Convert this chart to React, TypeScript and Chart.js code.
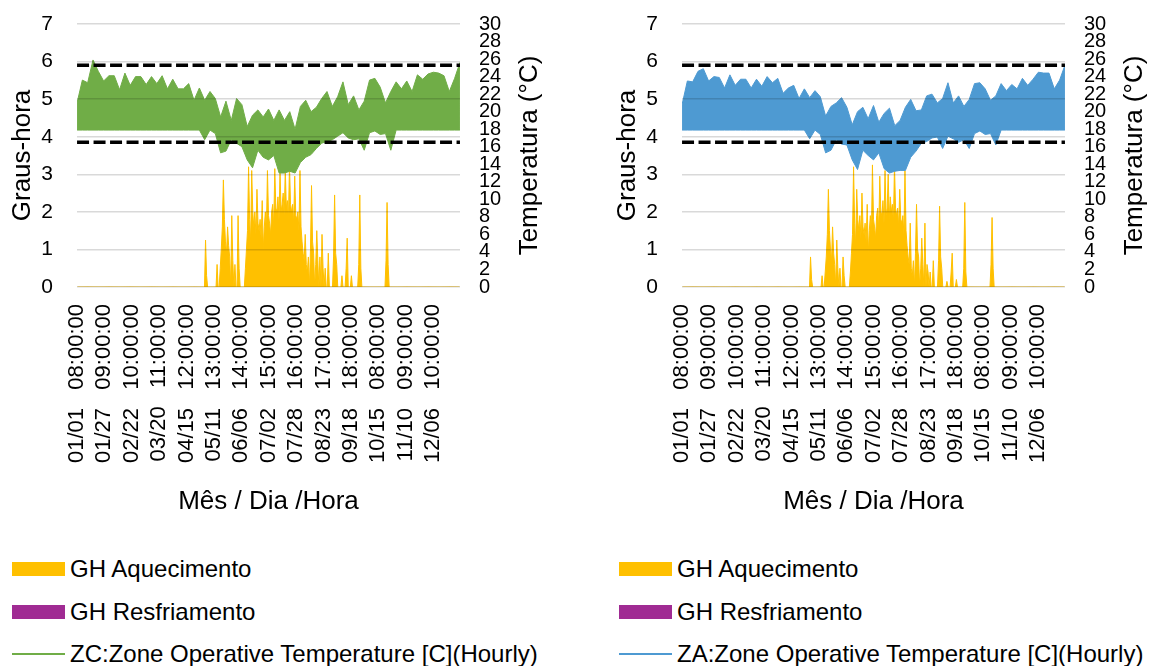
import React, { useEffect, useRef } from "react";
import { Chart, registerables } from "chart.js";

Chart.register(...registerables);

// ---------- data ----------
const TICK_DATES = ["01/01", "01/27", "02/22", "03/20", "04/15", "05/11", "06/06", "07/02", "07/28", "08/23", "09/18", "10/15", "11/10", "12/06"];
const TICK_HOURS = ["08:00:00", "09:00:00", "10:00:00", "11:00:00", "12:00:00", "13:00:00", "14:00:00", "15:00:00", "16:00:00", "17:00:00", "18:00:00", "08:00:00", "09:00:00", "10:00:00"];

const DAYS = 365;
const HOURS_PER_DAY = 11; // 08:00 .. 18:00
const FIRST_HOUR = 8;
const MONTH_START = [0, 31, 59, 90, 120, 151, 181, 212, 243, 273, 304, 334];

const COMFORT_HIGH = 25.3; // ºC
const COMFORT_LOW = 16.5; // ºC

// 5-day envelopes of the hourly operative temperature (ºC)
const ZC_TEMP_MAX = [21.0, 23.6, 23.3, 25.9, 24.6, 23.5, 24.1, 24.1, 22.5, 24.4, 23.0, 24.0, 24.0, 23.1, 24.0, 23.2, 24.1, 22.6, 23.7, 22.6, 22.6, 23.2, 21.3, 22.7, 21.3, 22.3, 21.5, 19.4, 21.2, 19.0, 21.5, 20.8, 18.3, 19.6, 20.2, 19.4, 20.3, 19.0, 20.2, 19.0, 20.0, 18.0, 20.6, 21.3, 20.0, 20.5, 21.5, 22.3, 20.6, 21.7, 23.4, 20.8, 21.8, 20.2, 21.2, 23.6, 23.8, 22.8, 21.0, 22.3, 23.4, 22.6, 23.5, 22.3, 24.2, 23.7, 24.3, 24.5, 24.4, 24.1, 22.3, 23.8, 25.6];
const ZC_TEMP_MIN = [17.9, 17.9, 17.9, 17.9, 17.9, 17.9, 17.9, 17.9, 17.9, 17.9, 17.9, 17.9, 17.9, 17.9, 17.9, 17.9, 17.9, 17.9, 17.9, 17.9, 17.9, 17.9, 17.9, 17.9, 16.8, 17.9, 17.5, 15.3, 15.5, 16.8, 16.4, 16.0, 14.5, 13.6, 15.6, 14.8, 14.5, 15.0, 13.0, 13.0, 13.2, 13.0, 14.2, 14.8, 15.1, 15.8, 16.4, 16.6, 16.8, 17.2, 17.6, 17.0, 16.8, 16.9, 15.6, 17.6, 17.8, 17.4, 17.5, 15.6, 17.9, 17.9, 17.9, 17.9, 17.9, 17.9, 17.9, 17.9, 17.9, 17.9, 17.9, 17.9, 17.9];
const ZA_TEMP_MAX = [20.8, 23.5, 23.4, 24.6, 24.9, 23.5, 24.0, 23.9, 22.7, 24.2, 23.0, 23.7, 23.7, 22.7, 23.7, 22.9, 24.0, 23.3, 23.8, 22.1, 22.7, 23.0, 21.5, 22.6, 21.6, 22.4, 21.7, 19.5, 20.6, 21.0, 21.6, 20.5, 18.5, 20.0, 20.5, 19.2, 20.7, 18.8, 19.8, 20.4, 18.4, 19.0, 20.5, 21.4, 20.1, 20.2, 21.8, 22.0, 21.0, 21.5, 23.3, 21.0, 21.8, 20.6, 21.4, 23.2, 23.3, 22.6, 21.3, 21.8, 23.2, 22.4, 23.1, 22.6, 23.8, 23.0, 23.7, 24.5, 24.4, 24.4, 22.6, 23.6, 25.3];
const ZA_TEMP_MIN = [17.9, 17.9, 17.9, 17.9, 17.9, 17.9, 17.9, 17.9, 17.9, 17.9, 17.9, 17.9, 17.9, 17.9, 17.9, 17.9, 17.9, 17.9, 17.9, 17.9, 17.9, 17.9, 17.9, 17.9, 16.9, 17.9, 17.4, 15.3, 15.6, 16.8, 16.3, 16.2, 14.5, 13.4, 15.6, 15.0, 14.5, 15.3, 13.5, 13.0, 13.2, 13.3, 13.3, 14.8, 15.5, 16.4, 16.6, 17.0, 17.1, 15.8, 17.2, 16.9, 16.5, 16.8, 15.8, 17.5, 17.8, 17.4, 17.5, 16.2, 17.9, 17.9, 17.9, 17.9, 17.9, 17.9, 17.9, 17.9, 17.9, 17.9, 17.9, 17.9, 17.9];

// daily peak heating degree-hours, from day-of-year HEAT_START_DAY onwards (other days: 0)
const HEAT_START_DAY = 120;
const ZC_HEAT_GH = [
  0, 0, 1.25, 0.3, 0, 0, 0, 0, 0, 0,
  0, 0, 0, 0.6, 0, 0, 0.5, 1.0, 1.6, 2.85,
  1.8, 1.2, 0.9, 1.6, 1.1, 0.8, 0, 1.9, 0.7, 0,
  0.6, 0, 0, 1.9, 0.5, 0, 0, 0, 0, 0,
  0.5, 1.0, 1.5, 3.2, 1.8, 1.2, 3.1, 2.0, 1.6, 2.0,
  1.4, 2.6, 1.7, 1.5, 1.8, 1.3, 2.3, 1.0, 1.6, 2.0,
  1.5, 3.1, 1.9, 1.7, 1.4, 2.0, 2.2, 1.6, 3.15, 2.1,
  2.0, 2.4, 1.8, 3.1, 2.0, 2.2, 2.5, 1.9, 3.15, 2.1,
  2.3, 1.8, 3.25, 2.2, 2.0, 2.2, 1.7, 2.95, 1.9, 1.8,
  2.0, 1.5, 3.1, 1.6, 1.2, 0.9, 0.7, 1.4, 0.6, 0.4,
  0.8, 0, 1.0, 2.7, 1.2, 0.9, 0, 0.6, 1.5, 0.7,
  0, 0.8, 0, 1.4, 0.5, 0, 0.5, 0, 0, 0.9,
  0, 0, 0, 0, 0.8, 2.45, 0.9, 0.6, 0, 0,
  0, 0, 0.3, 0, 0, 0, 0.5, 1.3, 0, 0,
  0, 0.3, 0, 0, 0, 0, 0, 0, 0.6, 2.45,
  0.5, 0, 0, 0, 0, 0, 0, 0, 0, 0,
  0, 0, 0, 0, 0, 0, 0, 0, 0, 0,
  0, 0, 0, 0, 0.7, 2.25, 0.6, 0, 0, 0,
];
const ZA_HEAT_GH = [
  0, 0, 0.8, 0.2, 0, 0, 0, 0, 0, 0,
  0, 0, 0, 0.3, 0, 0, 0.4, 0.8, 1.4, 2.6,
  1.5, 1.0, 0.7, 1.6, 0.9, 0.6, 0, 1.25, 0.5, 0,
  0.5, 0, 0, 0.8, 0.3, 0, 0, 0, 0, 0,
  0.4, 0.9, 1.4, 3.2, 1.7, 1.1, 2.6, 1.8, 1.5, 1.9,
  1.3, 2.5, 1.6, 1.4, 1.7, 1.2, 2.2, 0.9, 1.5, 1.9,
  1.4, 3.25, 1.8, 1.6, 1.3, 1.9, 2.1, 1.5, 2.95, 2.0,
  1.9, 2.3, 1.7, 3.1, 1.9, 2.1, 3.0, 1.8, 2.4, 2.0,
  2.2, 1.7, 3.25, 2.1, 1.9, 2.1, 1.6, 2.6, 1.8, 1.7,
  1.9, 1.4, 3.1, 1.5, 1.1, 0.8, 0.6, 1.7, 0.5, 0.3,
  0.7, 0, 0.9, 2.2, 1.0, 0.8, 0, 0.5, 1.3, 0.6,
  0, 1.7, 0, 0.6, 0.4, 0, 0.4, 0, 0, 0.7,
  0, 0, 0, 0, 0.7, 2.15, 0.8, 0.5, 0, 0,
  0, 0, 0.15, 0, 0, 0, 0.4, 0.9, 0, 0,
  0, 0.2, 0, 0, 0, 0, 0, 0, 0.5, 2.25,
  0.4, 0, 0, 0, 0, 0, 0, 0, 0, 0,
  0, 0, 0, 0, 0, 0, 0, 0, 0, 0,
  0, 0, 0, 0, 0.6, 1.85, 0.5, 0, 0, 0,
];
const COOL_GH: number[] = []; // no cooling degree-hours in either zone

// ---------- styling ----------
const FONT = '"Liberation Sans", Arial, Helvetica, sans-serif';
const YELLOW = "#FFC000";
const PURPLE = "#A02B93";
const GREEN = "#70AD47";
const BLUE = "#4E9AD2";
const W = 552;
const H = 530;
const PLOT_LEFT = 77;
const PLOT_RIGHT = 460;
const PLOT_TOP = 24;
const PLOT_BOTTOM = 287;

const N = DAYS * HOURS_PER_DAY;

function recordIndex(date: string, hour: string) {
  const [m, d] = date.split("/").map(Number);
  const h = Number(hour.split(":")[0]);
  return (MONTH_START[m - 1] + d - 1) * HOURS_PER_DAY + (h - FIRST_HOUR);
}

function envelope(values: number[]) {
  const p = values.length;
  return values.map((v, i) => ({ x: (i * (N - 1)) / (p - 1), y: v }));
}

function dailySeries(vals: number[]) {
  const pts: { x: number; y: number }[] = [];
  for (let d = 0; d < DAYS; d++) {
    const k = d - HEAT_START_DAY;
    const v = k >= 0 && k < vals.length ? vals[k] : 0;
    pts.push({ x: d * HOURS_PER_DAY + 5, y: v });
  }
  return pts;
}

const rightTitlePlugin = {
  id: "rightTitle",
  afterDraw(chart: any, _args: any, opts: any) {
    const { ctx, chartArea } = chart;
    ctx.save();
    ctx.translate(chartArea.right + opts.offset, (chartArea.top + chartArea.bottom) / 2);
    ctx.rotate(-Math.PI / 2);
    ctx.font = `26px ${FONT}`;
    ctx.fillStyle = "#000";
    ctx.textAlign = "center";
    ctx.textBaseline = "middle";
    ctx.fillText(opts.text, 0, 0);
    ctx.restore();
  },
};

const noPad = (axis: any) => {
  axis.paddingTop = 0;
  axis.paddingBottom = 0;
  axis.paddingLeft = 0;
  axis.paddingRight = 0;
};

type PanelProps = {
  left: number;
  color: string;
  tMax: number[];
  tMin: number[];
  heat: number[];
  zoneLabel: string;
};

function Panel({ left, color, tMax, tMin, heat, zoneLabel }: PanelProps) {
  const ref = useRef<HTMLCanvasElement | null>(null);

  useEffect(() => {
    if (!ref.current) return;
    const chart = new Chart(ref.current, {
      type: "line",
      data: {
        datasets: [
          {
            label: "GH Aquecimento",
            data: dailySeries(heat),
            yAxisID: "y",
            borderColor: YELLOW,
            backgroundColor: YELLOW,
            borderWidth: 1,
            fill: "origin",
            pointRadius: 0,
            order: 3,
          },
          {
            label: "GH Resfriamento",
            data: dailySeries(COOL_GH),
            yAxisID: "y",
            borderColor: PURPLE,
            backgroundColor: PURPLE,
            borderWidth: 0,
            fill: false,
            pointRadius: 0,
            order: 3,
          },
          {
            label: zoneLabel,
            data: envelope(tMax),
            yAxisID: "y1",
            borderColor: color,
            backgroundColor: color,
            borderWidth: 1,
            fill: "+1",
            pointRadius: 0,
            order: 1,
          },
          {
            label: zoneLabel + " min",
            data: envelope(tMin),
            yAxisID: "y1",
            borderColor: color,
            backgroundColor: color,
            borderWidth: 1,
            fill: false,
            pointRadius: 0,
            order: 1,
          },
          {
            label: "limite superior",
            data: [
              { x: 0, y: COMFORT_HIGH },
              { x: N - 1, y: COMFORT_HIGH },
            ],
            yAxisID: "y1",
            borderColor: "#000",
            borderWidth: 3.5,
            borderDash: [12, 4.5],
            fill: false,
            pointRadius: 0,
            order: 0,
          },
          {
            label: "limite inferior",
            data: [
              { x: 0, y: COMFORT_LOW },
              { x: N - 1, y: COMFORT_LOW },
            ],
            yAxisID: "y1",
            borderColor: "#000",
            borderWidth: 3.5,
            borderDash: [12, 4.5],
            fill: false,
            pointRadius: 0,
            order: 0,
          },
        ],
      },
      options: {
        responsive: false,
        animation: false,
        layout: { padding: { top: PLOT_TOP, left: 0, right: 0, bottom: 0 } },
        plugins: {
          legend: { display: false },
          tooltip: { enabled: false },
          rightTitle: { text: "Temperatura (°C)", offset: 70 },
        } as any,
        scales: {
          x: {
            type: "linear",
            min: -0.5,
            max: N - 0.5,
            grid: { display: false, drawTicks: false },
            border: { display: false },
            afterBuildTicks: (axis: any) => {
              axis.ticks = TICK_DATES.map((d, i) => ({ value: recordIndex(d, TICK_HOURS[i]) }));
            },
            afterFit: (axis: any) => {
              axis.height = H - PLOT_BOTTOM;
              noPad(axis);
            },
            ticks: {
              autoSkip: false,
              maxRotation: 90,
              minRotation: 90,
              padding: 17,
              color: "#000",
              font: { family: FONT, size: 22 },
              callback: (_v: any, i: number) => `${TICK_DATES[i]}   ${TICK_HOURS[i]}`,
            },
            title: {
              display: true,
              text: "Mês / Dia /Hora",
              color: "#000",
              font: { family: FONT, size: 26 },
              padding: { top: 0, bottom: 13 },
            },
          },
          y: {
            type: "linear",
            position: "left",
            min: 0,
            max: 7,
            grid: { color: "rgba(0,0,0,0.15)", lineWidth: 1.5, drawTicks: false, z: 1 } as any,
            border: { display: false },
            afterFit: (axis: any) => {
              axis.width = PLOT_LEFT;
              noPad(axis);
            },
            ticks: {
              stepSize: 1,
              padding: 24,
              color: "#000",
              font: { family: FONT, size: 21 },
            },
            title: {
              display: true,
              text: "Graus-hora",
              color: "#000",
              font: { family: FONT, size: 26 },
              padding: { top: 7, bottom: 0 },
            },
          },
          y1: {
            type: "linear",
            position: "right",
            min: 0,
            max: 30,
            grid: { drawOnChartArea: false, drawTicks: false },
            border: { display: false },
            afterFit: (axis: any) => {
              axis.width = W - PLOT_RIGHT;
              noPad(axis);
            },
            ticks: {
              stepSize: 2,
              autoSkip: false,
              padding: 19,
              color: "#000",
              font: { family: FONT, size: 20 },
            },
          },
        },
      },
      plugins: [rightTitlePlugin],
    } as any);
    return () => chart.destroy();
  }, []);

  const legendItems = [
    { label: "GH Aquecimento", color: YELLOW, kind: "box" },
    { label: "GH Resfriamento", color: PURPLE, kind: "box" },
    { label: zoneLabel, color, kind: "line" },
  ];

  return (
    <div style={{ position: "absolute", left, top: 0, width: W, height: 666 }}>
      <canvas ref={ref} width={W} height={H} style={{ position: "absolute", left: 0, top: 0, width: W, height: H }} />
      <div style={{ position: "absolute", left: 12 + (left > 0 ? 2 : 0), top: 548 }}>
        {legendItems.map((it) => (
          <div key={it.label} style={{ display: "flex", alignItems: "center", height: 42.5, whiteSpace: "nowrap" }}>
            <div style={{ width: 53, height: it.kind === "box" ? 14 : 2, background: it.color, marginRight: 5, flex: "none" }} />
            <span style={{ fontFamily: FONT, fontSize: 24, color: "#000" }}>{it.label}</span>
          </div>
        ))}
      </div>
    </div>
  );
}

export default function App() {
  return (
    <div style={{ position: "fixed", left: 0, top: 0, width: 1157, height: 666, background: "#fff", overflow: "hidden" }}>
      <Panel left={0} color={GREEN} tMax={ZC_TEMP_MAX} tMin={ZC_TEMP_MIN} heat={ZC_HEAT_GH} zoneLabel="ZC:Zone Operative Temperature [C](Hourly)" />
      <Panel left={605} color={BLUE} tMax={ZA_TEMP_MAX} tMin={ZA_TEMP_MIN} heat={ZA_HEAT_GH} zoneLabel="ZA:Zone Operative Temperature [C](Hourly)" />
    </div>
  );
}
